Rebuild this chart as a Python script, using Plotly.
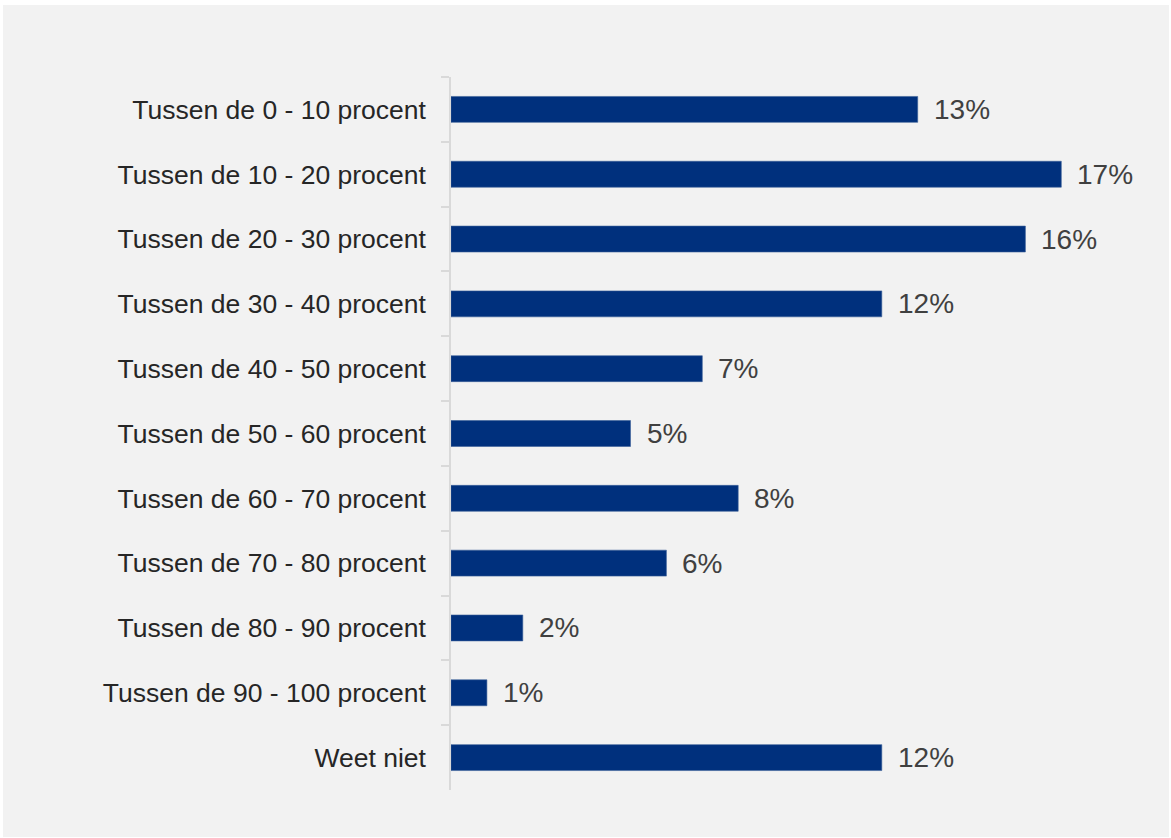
import plotly.graph_objects as go

categories = [
    "Tussen de 0 - 10 procent",
    "Tussen de 10 - 20 procent",
    "Tussen de 20 - 30 procent",
    "Tussen de 30 - 40 procent",
    "Tussen de 40 - 50 procent",
    "Tussen de 50 - 60 procent",
    "Tussen de 60 - 70 procent",
    "Tussen de 70 - 80 procent",
    "Tussen de 80 - 90 procent",
    "Tussen de 90 - 100 procent",
    "Weet niet",
]
values = [13, 17, 16, 12, 7, 5, 8, 6, 2, 1, 12]
value_labels = [f"{v}%" for v in values]

W, H = 1171, 838
L, R, T, B = 451, 21, 77, 48
pw = W - L - R
ph = H - T - B
x_max = pw / 35.9

fig = go.Figure()
fig.add_trace(go.Bar(
    x=values,
    y=categories,
    orientation="h",
    width=0.4,
    marker=dict(color="#00307D", line=dict(color="#3b5f99", width=0.6)),
    hoverinfo="skip",
))

for v, c, t in zip(values, categories, value_labels):
    fig.add_annotation(
        x=v, y=c, text=t, showarrow=False, xanchor="left", yanchor="middle",
        xshift=14, font=dict(family="Liberation Sans, Arial, sans-serif", size=28, color="#404040"),
    )

def px_x(p):
    return (p - L) / pw

def px_y(p):
    return (H - B - p) / ph

fig.add_shape(
    type="rect", xref="paper", yref="paper", layer="below",
    x0=px_x(3), x1=px_x(1169), y0=px_y(837), y1=px_y(5),
    fillcolor="#f2f2f2", line=dict(width=0),
)

fig.update_layout(
    width=W, height=H,
    margin=dict(l=L, r=R, t=T, b=B, pad=0),
    paper_bgcolor="#ffffff",
    plot_bgcolor="rgba(0,0,0,0)",
    showlegend=False,
    bargap=0.6,
    xaxis=dict(range=[0, x_max], visible=False, showgrid=False, zeroline=False),
    yaxis=dict(
        categoryorder="array", categoryarray=categories, autorange="reversed",
        showline=True, linecolor="#d9d9d9", linewidth=1.5,
        ticks="outside", tickson="boundaries", ticklen=8, tickcolor="#d9d9d9", tickwidth=1.5,
        ticklabelstandoff=18,
        tickfont=dict(family="Liberation Sans, Arial, sans-serif", size=26.5, color="#262626"),
        showgrid=False, zeroline=False,
    ),
)

fig.write_html(
    "out.html",
    config={"displayModeBar": False},
    post_script="document.body.style.margin='0';document.body.style.padding='0';",
)
